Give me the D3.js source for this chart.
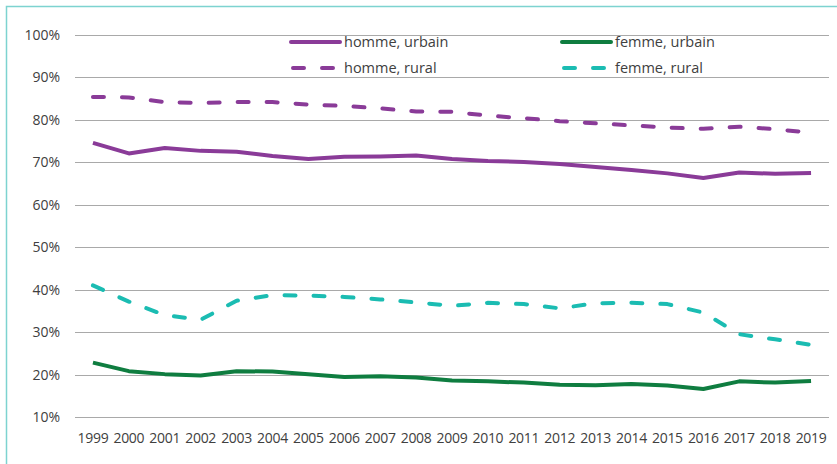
<!DOCTYPE html>
<html><head><meta charset="utf-8">
<script src="https://cdn.jsdelivr.net/npm/d3@7"></script>
<style>
html,body{margin:0;padding:0;background:#fff;}
svg{display:block;font-family:"Open Sans","Liberation Sans",sans-serif;}
</style></head>
<body>
<svg id="chart" width="837" height="464"></svg>
<script>
const years = ["1999","2000","2001","2002","2003","2004","2005","2006","2007","2008","2009","2010","2011","2012","2013","2014","2015","2016","2017","2018","2019"];
const hommeUrbain = [74.6,72.1,73.4,72.7,72.5,71.5,70.8,71.3,71.4,71.6,70.8,70.3,70.1,69.6,68.9,68.2,67.4,66.3,67.6,67.3,67.5];
const hommeRural  = [85.4,85.3,84.2,84.0,84.2,84.2,83.6,83.3,82.7,82.0,81.9,81.0,80.4,79.7,79.2,78.7,78.2,77.9,78.4,77.8,77.0];
const femmeUrbain = [22.8,20.8,20.1,19.8,20.8,20.7,20.1,19.4,19.6,19.3,18.6,18.4,18.1,17.6,17.5,17.8,17.4,16.6,18.4,18.1,18.5];
const femmeRural  = [41.0,37.2,34.0,32.9,37.4,38.7,38.6,38.3,37.7,37.0,36.2,36.9,36.6,35.6,36.8,36.9,36.6,34.6,29.5,28.3,27.0];
const yTicks = [10,20,30,40,50,60,70,80,90,100];
const seriesNames = ["homme, urbain","homme, rural","femme, urbain","femme, rural"];

const series = [
  {name: seriesNames[0], values: hommeUrbain, color: "#8a3b98", dash: null},
  {name: seriesNames[1], values: hommeRural,  color: "#8a3b98", dash: "11,18"},
  {name: seriesNames[2], values: femmeUrbain, color: "#0f7d40", dash: null},
  {name: seriesNames[3], values: femmeRural,  color: "#1bbcb2", dash: "11,18"}
];

const svg = d3.select("#chart");
const W = 837, H = 464;

// frame
svg.append("rect").attr("x",6.5).attr("y",6.5).attr("width",W+10).attr("height",H+10)
  .attr("fill","none").attr("stroke","#7dd3d0").attr("stroke-width",1.5);

const x = d3.scaleBand().domain(years).range([75,829]).padding(0);
const y = d3.scaleLinear().domain([10,100]).range([417,35]);

// gridlines
svg.append("g").selectAll("line").data(yTicks).join("line")
  .attr("x1",75).attr("x2",829)
  .attr("y1",d=>Math.round(y(d))+0.5).attr("y2",d=>Math.round(y(d))+0.5)
  .attr("stroke","#a9a9a9").attr("stroke-width",1);

// y labels
svg.append("g").selectAll("text").data(yTicks).join("text")
  .attr("x",60).attr("y",d=>y(d)).attr("dy","0.36em")
  .attr("text-anchor","end").attr("fill","#404040").attr("font-size",14)
  .text(d=>d+"%");

// x labels
svg.append("g").selectAll("text").data(years).join("text")
  .attr("x",d=>x(d)+x.bandwidth()/2).attr("y",443)
  .attr("text-anchor","middle").attr("fill","#404040").attr("font-size",14)
  .attr("letter-spacing","-0.3")
  .text(d=>d);

const line = d3.line()
  .x((d,i)=>x(years[i])+x.bandwidth()/2)
  .y(d=>y(d));

svg.append("g").selectAll("path").data(series).join("path")
  .attr("d",d=>line(d.values))
  .attr("fill","none").attr("stroke",d=>d.color).attr("stroke-width",4)
  .attr("stroke-linecap",d=>d.dash?"round":"butt")
  .attr("stroke-linejoin","round")
  .attr("stroke-dasharray",d=>d.dash);

// legend
const legPos = [[291,42],[291,68],[562,42],[562,68]];
const leg = svg.append("g").selectAll("g").data(series).join("g")
  .attr("transform",(d,i)=>`translate(${legPos[i][0]},${legPos[i][1]})`);
leg.append("line").attr("x1",d=>d.dash?2:0).attr("x2",d=>d.dash?46:49).attr("y1",0).attr("y2",0)
  .attr("stroke",d=>d.color).attr("stroke-width",4)
  .attr("stroke-linecap","round")
  .attr("stroke-dasharray",d=>d.dash?"11,18":null);
leg.append("text").attr("x",53).attr("y",0).attr("dy","0.36em")
  .attr("fill","#404040").attr("font-size",14.5).text(d=>d.name);
</script>
</body></html>
